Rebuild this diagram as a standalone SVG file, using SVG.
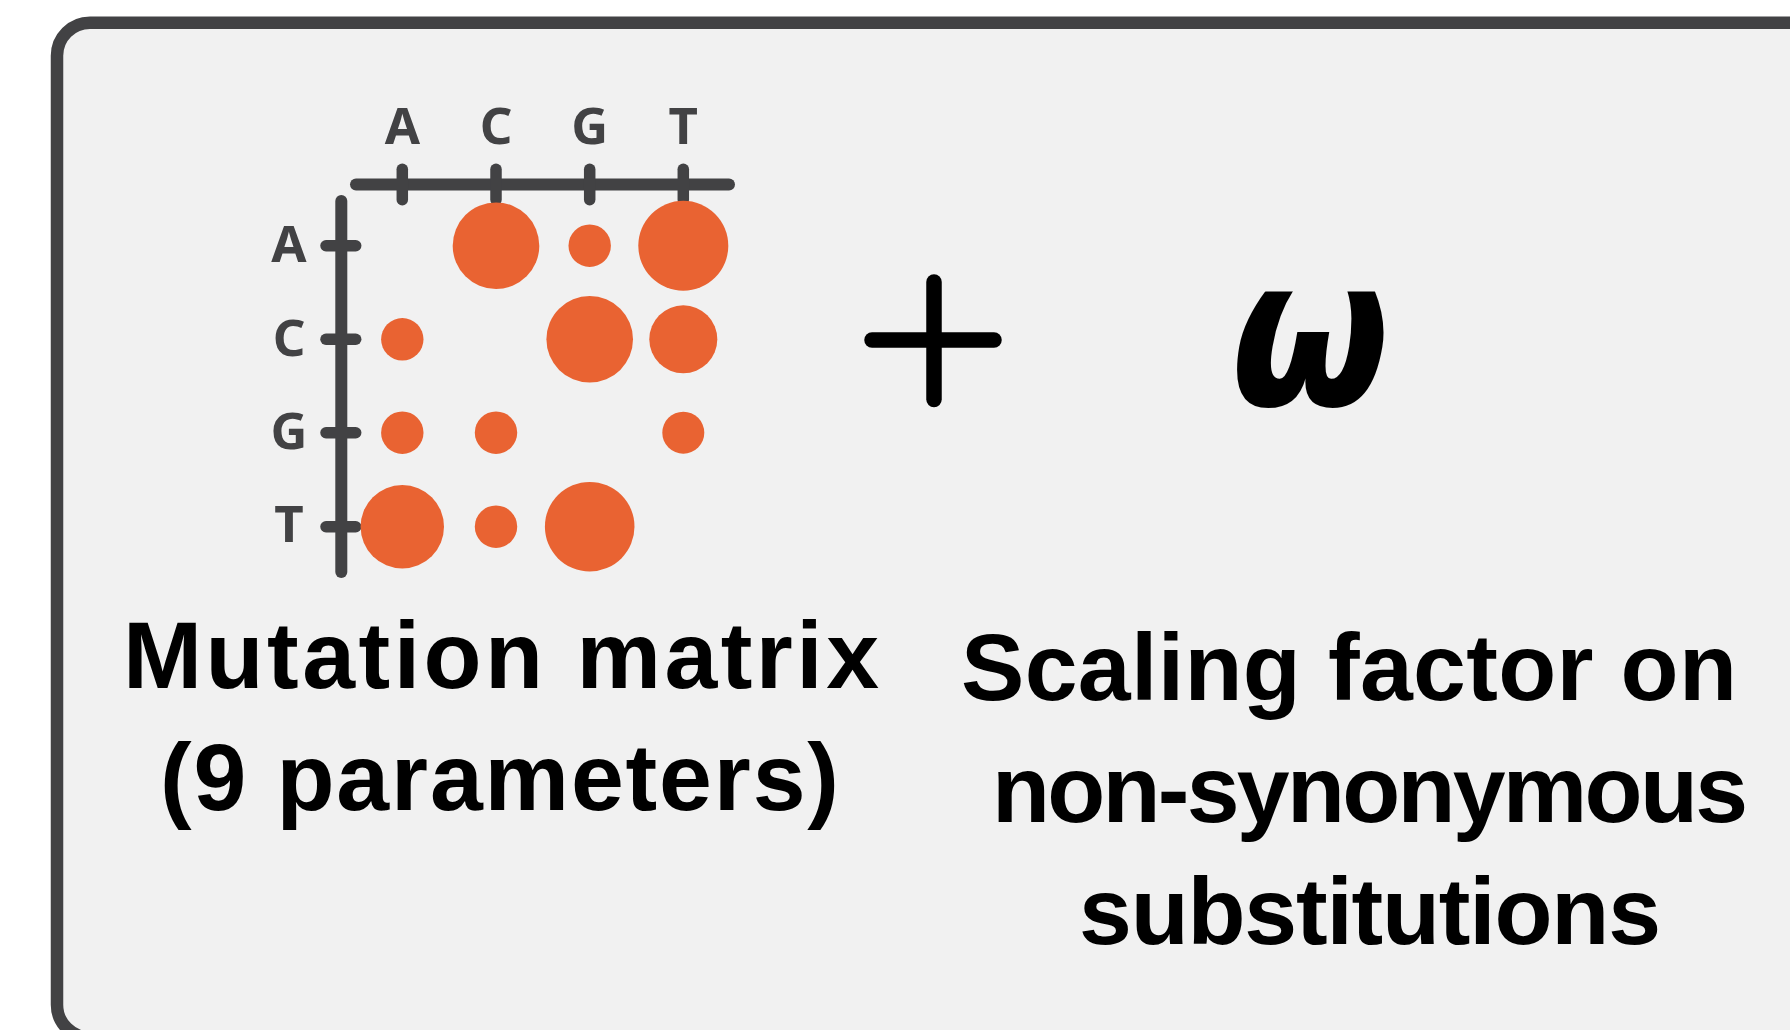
<svg xmlns="http://www.w3.org/2000/svg" width="1790" height="1030" viewBox="0 0 1790 1030">
<defs>
<style>
.axis{stroke:#424244;stroke-width:12;stroke-linecap:round;fill:none}
.tick{stroke:#424244;stroke-width:11.5;stroke-linecap:round;fill:none}
.lbl{font-family:"Noto Sans","Open Sans","Liberation Sans",sans-serif;font-weight:bold;font-size:51px;fill:#424244;text-anchor:middle}
.dot{fill:#E96332}
.cap{font-family:"Liberation Sans","DejaVu Sans",sans-serif;font-weight:bold;font-size:95px;fill:#000}
</style>
<clipPath id="omclip"><rect x="1150" y="291.5" width="300" height="200"/></clipPath>
</defs>
<rect x="0" y="0" width="1790" height="1030" fill="#ffffff"/>
<g id="frame">
<rect x="57" y="22.7" width="1800" height="1015" rx="33" ry="33" fill="#f1f1f1" stroke="#424244" stroke-width="12.5"/>
</g>
<g id="matrix">
<line class="axis" x1="356" y1="184.5" x2="729" y2="184.5"/>
<line class="axis" x1="341.3" y1="201" x2="341.3" y2="572"/>
<g id="col-ticks">
<line class="tick" x1="402.3" y1="169.3" x2="402.3" y2="199.7"/>
<line class="tick" x1="496" y1="169.3" x2="496" y2="199.7"/>
<line class="tick" x1="589.7" y1="169.3" x2="589.7" y2="199.7"/>
<line class="tick" x1="683.3" y1="169.3" x2="683.3" y2="199.7"/>
</g>
<g id="row-ticks">
<line class="tick" x1="326" y1="245.7" x2="355.7" y2="245.7"/>
<line class="tick" x1="326" y1="339.3" x2="355.7" y2="339.3"/>
<line class="tick" x1="326" y1="432.7" x2="355.7" y2="432.7"/>
<line class="tick" x1="326" y1="526.7" x2="355.7" y2="526.7"/>
</g>
<g id="col-labels">
<text class="lbl" x="402.5" y="144">A</text>
<text class="lbl" x="496" y="144">C</text>
<text class="lbl" x="589.7" y="144">G</text>
<text class="lbl" x="683.3" y="144">T</text>
</g>
<g id="row-labels">
<text class="lbl" x="289" y="262">A</text>
<text class="lbl" x="289" y="355.5">C</text>
<text class="lbl" x="289" y="449">G</text>
<text class="lbl" x="289" y="542">T</text>
</g>
<g id="dots">
<circle class="dot" cx="496" cy="245.7" r="43.3"/>
<circle class="dot" cx="589.7" cy="245.7" r="21.2"/>
<circle class="dot" cx="683.3" cy="245.7" r="45"/>
<circle class="dot" cx="402.3" cy="339.3" r="21.2"/>
<circle class="dot" cx="589.7" cy="339.3" r="43.3"/>
<circle class="dot" cx="683.3" cy="339.3" r="34"/>
<circle class="dot" cx="402.3" cy="432.7" r="21.2"/>
<circle class="dot" cx="496" cy="432.7" r="21.2"/>
<circle class="dot" cx="683.3" cy="432.7" r="21"/>
<circle class="dot" cx="402.3" cy="526.7" r="41.7"/>
<circle class="dot" cx="496" cy="526.7" r="21.2"/>
<circle class="dot" cx="589.7" cy="526.7" r="44.8"/>
</g>
</g>
<g id="plus">
<line x1="934" y1="282" x2="934" y2="399.5" stroke="#000" stroke-width="15.5" stroke-linecap="round"/>
<line x1="872" y1="340" x2="994" y2="340" stroke="#000" stroke-width="15.5" stroke-linecap="round"/>
</g>
<g id="omega" clip-path="url(#omclip)">
<text transform="translate(1231,405) scale(0.87,1)" x="0" y="0" font-family="DejaVu Sans, sans-serif" font-weight="bold" font-style="italic" font-size="210" fill="#000">ω</text>
</g>
<g id="captions">
<text class="cap" x="123" y="688" textLength="756" lengthAdjust="spacing">Mutation matrix</text>
<text class="cap" x="160" y="810" textLength="679" lengthAdjust="spacing">(9 parameters)</text>
<text class="cap" x="961" y="700" textLength="776" lengthAdjust="spacing">Scaling factor on</text>
<text class="cap" x="992" y="822" textLength="756" lengthAdjust="spacing">non-synonymous</text>
<text class="cap" x="1079" y="944" textLength="582" lengthAdjust="spacing">substitutions</text>
</g>
</svg>
